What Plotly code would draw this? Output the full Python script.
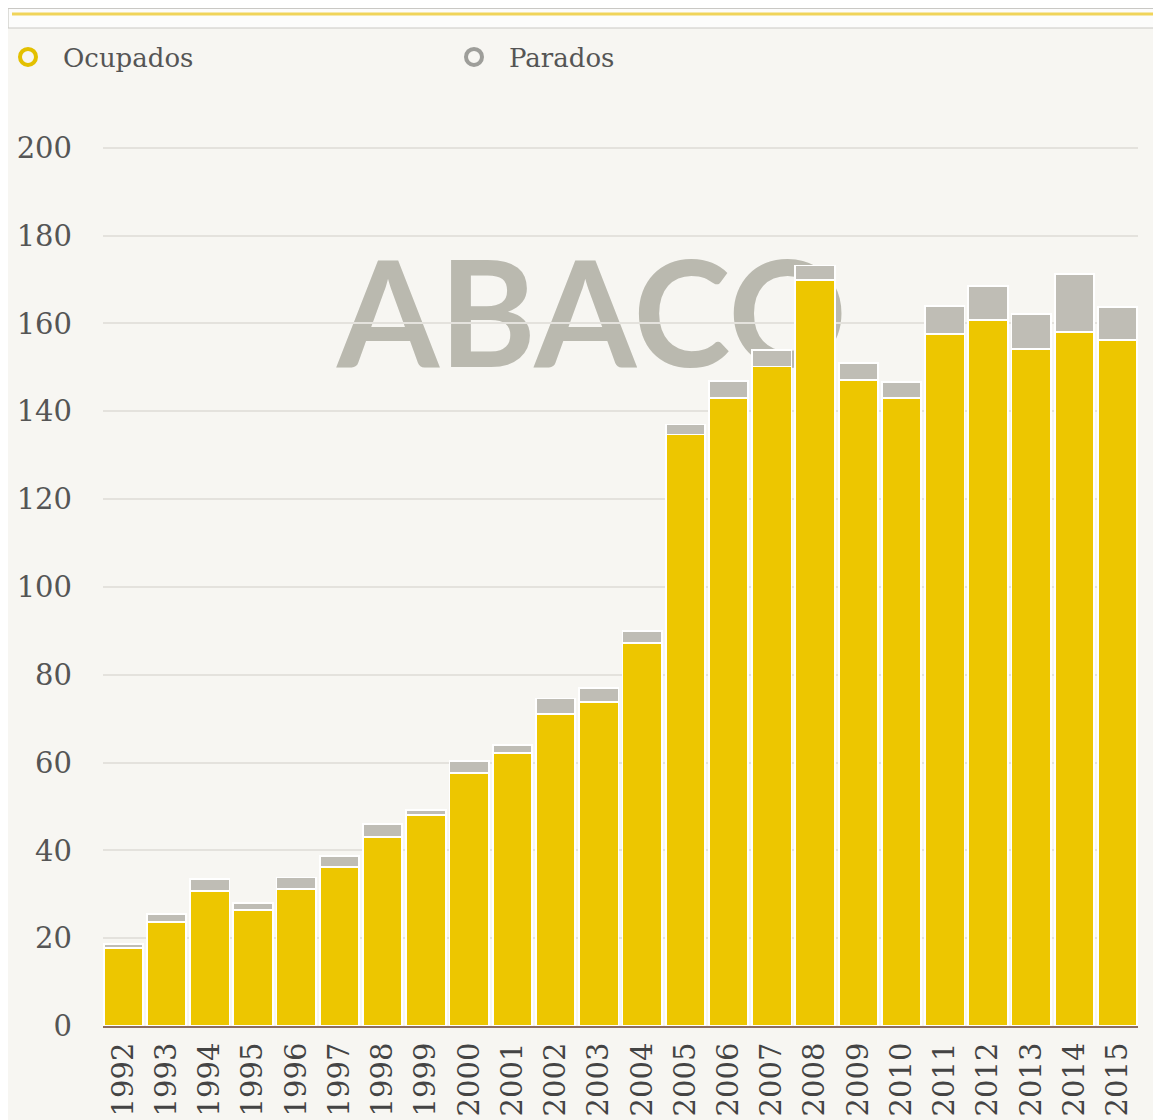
import plotly.graph_objects as go

years = [str(y) for y in range(1992, 2016)]
ocupados = [17.8, 23.6, 30.8, 26.5, 31.2, 36.2, 43.0, 48.0, 57.6, 62.1, 71.0, 73.7,
            87.2, 134.7, 143.0, 150.2, 169.8, 147.1, 143.0, 157.6, 160.7, 154.1, 158.0, 156.2]
parados = [0.8, 1.9, 2.7, 1.5, 2.6, 2.6, 3.0, 1.1, 2.8, 1.9, 3.6, 3.2,
           2.7, 2.3, 3.9, 3.8, 3.4, 3.8, 3.6, 6.3, 7.8, 8.1, 13.3, 7.5]
y_ticks = [0, 20, 40, 60, 80, 100, 120, 140, 160, 180, 200]

YELLOW = "#EDC600"
GRAY = "#BFBDB5"
BG = "#F7F6F2"
SERIF = "DejaVu Serif"

OFF = 8  # page body margin
W, H = 1161 - OFF, 1120 - OFF
YMAX = 200.4
L, R, T, B = 103 - OFF, 23, 146 - OFF, 94
pw, ph = W - L - R, H - T - B

def px(x):
    # reference-image x pixel -> paper
    return (x - OFF - L) / pw

def py(y):
    # reference-image y pixel -> paper
    return (H - B - (y - OFF)) / ph

fig = go.Figure()
fig.add_trace(go.Bar(x=years, y=ocupados, name="Ocupados", showlegend=False,
                     marker=dict(color=YELLOW, line=dict(color="#ffffff", width=1.8))))
fig.add_trace(go.Bar(x=years, y=parados, name="Parados", showlegend=False,
                     marker=dict(color=GRAY, line=dict(color="#ffffff", width=1.8))))
# legend entries
fig.add_trace(go.Scatter(x=[None], y=[None], mode="markers", name="Ocupados",
                         marker=dict(symbol="circle-open", size=17, color="#E3C000",
                                     line=dict(width=4, color="#E3C000"))))
fig.add_trace(go.Scatter(x=[None], y=[None], mode="markers", name="Parados",
                         marker=dict(symbol="circle-open", size=17, color="#9E9E9A",
                                     line=dict(width=4, color="#9E9E9A"))))

shapes = [
    # top decorative box
    dict(type="rect", xref="paper", yref="paper", x0=px(8), x1=px(1175), y0=py(28), y1=py(8.5),
         fillcolor="#FCFCFB", line=dict(color="#C9C8C4", width=1.2), layer="above"),
    dict(type="line", xref="paper", yref="paper", x0=px(12), x1=px(1175), y0=py(14), y1=py(14),
         line=dict(color="#F0D45A", width=3)),
    # watermark logo
    dict(type="rect", xref="paper", yref="paper", x0=px(337), x1=px(847), y0=py(371), y1=py(245),
         fillcolor="rgba(0,0,0,0)", line=dict(width=0), layer="below",
         label=dict(text="ABACO", textposition="middle center",
                    font=dict(family="Lato", size=147, color="#BAB9AF", weight="bold"))),
]

fig.update_layout(
    width=W, height=H,
    margin=dict(l=L, r=R, t=T, b=B, autoexpand=False),
    paper_bgcolor=BG, plot_bgcolor=BG,
    barmode="stack", bargap=0.09,
    font=dict(family=SERIF, size=26, color="#555555"),
    shapes=shapes,
    legend=dict(orientation="h", traceorder="normal", xref="container", x=0,
                xanchor="left", y=py(57), yanchor="middle", itemwidth=60,
                indentation=-15, entrywidth=386, entrywidthmode="pixels",
                font=dict(family=SERIF, size=26, color="#555555"),
                bgcolor="rgba(0,0,0,0)", itemclick=False),
    xaxis=dict(type="category", range=[-0.47, 23.47], tickangle=-90, showgrid=False,
               showline=True, linecolor="#8C6B60", linewidth=2, ticks="",
               ticklabelstandoff=3, automargin=False,
               tickfont=dict(family=SERIF, size=29, color="#444444")),
    yaxis=dict(range=[0, YMAX], tickvals=y_ticks, showgrid=True, gridcolor="#E4E2DD",
               gridwidth=1.5, zeroline=False, showline=False, ticks="",
               ticklabelstandoff=30, automargin=False,
               tickfont=dict(family=SERIF, size=29, color="#555555")),
)

fig.write_html("out.html")
